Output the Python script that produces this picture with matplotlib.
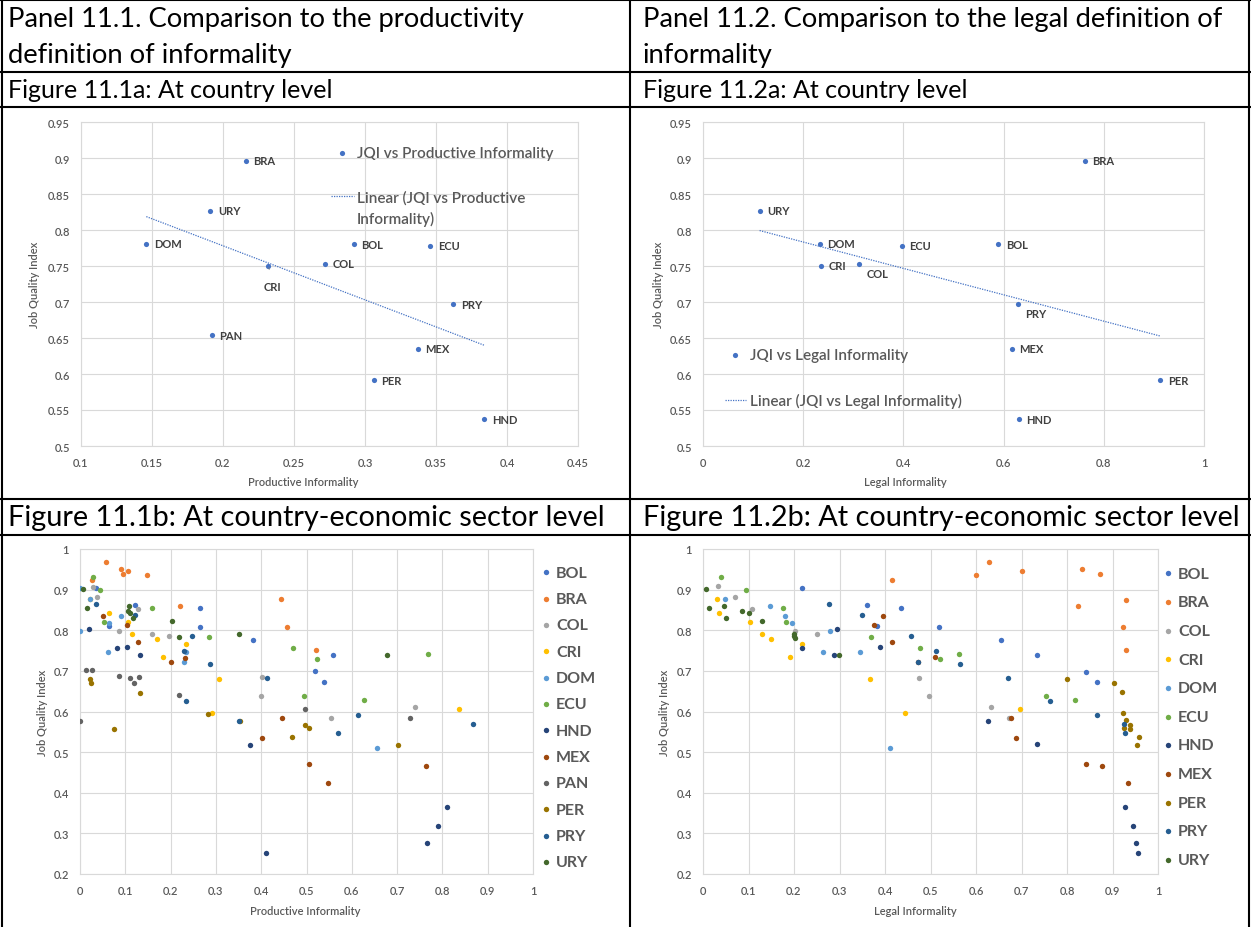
import matplotlib
matplotlib.use('Agg')
import matplotlib.pyplot as plt
from matplotlib.lines import Line2D
import numpy as np

W, H = 1251, 928
plt.rcParams['font.family'] = ['Lato', 'DejaVu Sans']

# ---------------- data ----------------
# country level
countries_prod = ['BRA', 'URY', 'DOM', 'CRI', 'PAN', 'BOL', 'COL', 'ECU', 'PRY', 'MEX', 'PER', 'HND']
prod_inf = [0.216, 0.191, 0.146, 0.232, 0.192, 0.292, 0.272, 0.346, 0.362, 0.337, 0.306, 0.384]
jqi_prod = [0.896, 0.827, 0.781, 0.750, 0.654, 0.780, 0.753, 0.778, 0.697, 0.635, 0.591, 0.537]

countries_legal = ['URY', 'DOM', 'CRI', 'COL', 'ECU', 'BOL', 'BRA', 'PRY', 'MEX', 'PER', 'HND']
legal_inf = [0.113, 0.233, 0.235, 0.312, 0.397, 0.589, 0.762, 0.628, 0.616, 0.913, 0.630]
jqi_legal = [0.827, 0.781, 0.750, 0.753, 0.778, 0.780, 0.896, 0.697, 0.635, 0.591, 0.537]

# country-economic sector level, productive informality (x, JQI)
bol_prod = [(0.036, 0.903), (0.121, 0.861), (0.265, 0.856), (0.264, 0.809), (0.065, 0.811), (0.383, 0.776),
            (0.519, 0.699), (0.538, 0.673), (0.558, 0.738)]
bra_prod = [(0.058, 0.969), (0.091, 0.951), (0.094, 0.939), (0.107, 0.947), (0.147, 0.935), (0.026, 0.924),
            (0.220, 0.859), (0.444, 0.876), (0.457, 0.809), (0.522, 0.751)]
col_prod = [(0.028, 0.907), (0.038, 0.882), (0.129, 0.853), (0.085, 0.797), (0.159, 0.792), (0.196, 0.786),
            (0.401, 0.684), (0.399, 0.637), (0.553, 0.584), (0.739, 0.610)]
cri_prod = [(0.022, 0.876), (0.064, 0.843), (0.107, 0.820), (0.114, 0.790), (0.171, 0.779), (0.183, 0.733),
            (0.233, 0.765), (0.306, 0.681), (0.291, 0.597), (0.837, 0.607)]
dom_prod = [(0.000, 0.903), (0.001, 0.798), (0.021, 0.876), (0.065, 0.819), (0.090, 0.836), (0.062, 0.747),
            (0.235, 0.747), (0.230, 0.721), (0.655, 0.509)]
ecu_prod = [(0.029, 0.931), (0.045, 0.900), (0.054, 0.820), (0.160, 0.856), (0.285, 0.783), (0.471, 0.756),
            (0.524, 0.729), (0.495, 0.637), (0.769, 0.742), (0.628, 0.628)]
hnd_prod = [(0.020, 0.804), (0.082, 0.756), (0.104, 0.760), (0.132, 0.739), (0.376, 0.518), (0.410, 0.252),
            (0.811, 0.366), (0.791, 0.317), (0.765, 0.276)]
mex_prod = [(0.050, 0.834), (0.103, 0.812), (0.127, 0.770), (0.201, 0.722), (0.232, 0.732), (0.401, 0.535),
            (0.447, 0.584), (0.506, 0.471), (0.548, 0.423), (0.764, 0.466)]
pan_prod = [(0.000, 0.576), (0.013, 0.702), (0.027, 0.701), (0.087, 0.687), (0.111, 0.683), (0.120, 0.670),
            (0.130, 0.686), (0.218, 0.641), (0.496, 0.607), (0.729, 0.585)]
per_prod = [(0.022, 0.679), (0.024, 0.669), (0.132, 0.646), (0.074, 0.556), (0.283, 0.594), (0.353, 0.577),
            (0.468, 0.538), (0.496, 0.567), (0.505, 0.560), (0.703, 0.518)]
pry_prod = [(0.035, 0.865), (0.121, 0.838), (0.248, 0.785), (0.230, 0.750), (0.235, 0.625), (0.288, 0.716),
            (0.413, 0.683), (0.350, 0.577), (0.613, 0.591), (0.570, 0.546), (0.867, 0.569)]
ury_prod = [(0.006, 0.902), (0.016, 0.856), (0.109, 0.859), (0.107, 0.848), (0.110, 0.843), (0.118, 0.829),
            (0.204, 0.824), (0.218, 0.783), (0.352, 0.792), (0.677, 0.738)]

# country-economic sector level, legal informality (x, JQI)
bol_legal = [(0.218, 0.903), (0.361, 0.862), (0.436, 0.856), (0.383, 0.811), (0.518, 0.809), (0.655, 0.776),
             (0.733, 0.739), (0.841, 0.698), (0.865, 0.673)]
bra_legal = [(0.415, 0.923), (0.601, 0.935), (0.629, 0.969), (0.701, 0.947), (0.834, 0.951), (0.873, 0.939),
             (0.824, 0.859), (0.929, 0.875), (0.924, 0.809), (0.929, 0.751)]
col_legal = [(0.033, 0.908), (0.071, 0.882), (0.107, 0.853), (0.202, 0.799), (0.250, 0.792), (0.474, 0.683),
             (0.496, 0.637), (0.634, 0.610), (0.673, 0.584)]
cri_legal = [(0.031, 0.876), (0.036, 0.843), (0.104, 0.820), (0.129, 0.790), (0.150, 0.779), (0.191, 0.733),
             (0.217, 0.765), (0.367, 0.681), (0.444, 0.597), (0.697, 0.607)]
dom_legal = [(0.048, 0.876), (0.147, 0.859), (0.180, 0.836), (0.196, 0.818), (0.263, 0.747), (0.279, 0.798),
             (0.344, 0.747), (0.410, 0.509)]
ecu_legal = [(0.039, 0.931), (0.094, 0.900), (0.175, 0.856), (0.182, 0.820), (0.370, 0.783), (0.476, 0.756),
             (0.520, 0.729), (0.562, 0.742), (0.754, 0.637), (0.818, 0.628)]
hnd_legal = [(0.218, 0.756), (0.288, 0.740), (0.295, 0.803), (0.388, 0.760), (0.626, 0.576), (0.735, 0.520),
             (0.927, 0.366), (0.944, 0.317), (0.952, 0.276), (0.956, 0.252)]
mex_legal = [(0.375, 0.812), (0.396, 0.835), (0.416, 0.771), (0.473, 0.723), (0.510, 0.733), (0.676, 0.584),
             (0.688, 0.536), (0.842, 0.471), (0.878, 0.467), (0.933, 0.423)]
per_legal = [(0.800, 0.679), (0.904, 0.669), (0.921, 0.647), (0.922, 0.596), (0.929, 0.578), (0.926, 0.560),
             (0.939, 0.566), (0.939, 0.556), (0.958, 0.538), (0.953, 0.518)]
pry_legal = [(0.277, 0.865), (0.350, 0.838), (0.458, 0.785), (0.512, 0.750), (0.473, 0.721), (0.564, 0.718),
             (0.670, 0.683), (0.762, 0.625), (0.865, 0.591), (0.925, 0.570), (0.927, 0.546)]
ury_legal = [(0.006, 0.902), (0.0125, 0.856), (0.046, 0.859), (0.051, 0.829), (0.086, 0.848), (0.101, 0.843),
             (0.129, 0.824), (0.199, 0.792), (0.201, 0.787), (0.203, 0.782), (0.299, 0.738)]

sector_names = ['BOL', 'BRA', 'COL', 'CRI', 'DOM', 'ECU', 'HND', 'MEX', 'PAN', 'PER', 'PRY', 'URY']
sector_colors = ['#4472C4', '#ED7D31', '#A5A5A5', '#FFC000', '#5B9BD5', '#70AD47',
                 '#264478', '#9E480E', '#636363', '#997300', '#255E91', '#43682B']
sector_prod = [bol_prod, bra_prod, col_prod, cri_prod, dom_prod, ecu_prod,
               hnd_prod, mex_prod, pan_prod, per_prod, pry_prod, ury_prod]
sector_legal = [bol_legal, bra_legal, col_legal, cri_legal, dom_legal, ecu_legal,
                hnd_legal, mex_legal, None, per_legal, pry_legal, ury_legal]

BLUE = '#4472C4'
GRID = '#D9D9D9'
TXT = '#595959'


def fx(x):
    return x / W


def fy(y):
    return 1 - y / H


def px_rect(x0, y0, x1, y1):
    return [x0 / W, 1 - y1 / H, (x1 - x0) / W, (y1 - y0) / H]


def style(ax, xticks, yticks):
    ax.set_xlim(xticks[0], xticks[-1])
    ax.set_ylim(yticks[0], yticks[-1])
    ax.set_xticks(xticks)
    ax.set_yticks(yticks)
    ax.set_xticklabels([f'{t:g}' for t in xticks])
    ax.set_yticklabels([f'{t:g}' for t in yticks])
    ax.grid(True, color=GRID, lw=0.8)
    ax.set_axisbelow(True)
    for s in ax.spines.values():
        s.set_color(GRID)
        s.set_linewidth(0.8)
    ax.tick_params(length=0, pad=8, labelsize=8, labelcolor=TXT)
    for lab in ax.get_xticklabels() + ax.get_yticklabels():
        lab.set_fontweight('semibold')


fig = plt.figure(figsize=(W / 100, H / 100), dpi=100)

# table grid
for y in [1, 73, 108, 500, 536]:
    fig.add_artist(Line2D([0, 1], [fy(y)] * 2, color='black', lw=1.5))
for x in [2, 630, 1249]:
    fig.add_artist(Line2D([fx(x)] * 2, [0, 1], color='black', lw=1.5))

fig.text(fx(8), fy(20), 'Panel 11.1. Comparison to the productivity', fontsize=19.7, va='center')
fig.text(fx(8), fy(55), 'definition of informality', fontsize=19.7, va='center')
fig.text(fx(643), fy(20), 'Panel 11.2. Comparison to the legal definition of', fontsize=19.7, va='center')
fig.text(fx(643), fy(55), 'informality', fontsize=19.7, va='center')
fig.text(fx(8), fy(90), 'Figure 11.1a: At country level', fontsize=18, va='center')
fig.text(fx(643), fy(90), 'Figure 11.2a: At country level', fontsize=18, va='center')
fig.text(fx(8), fy(518), 'Figure 11.1b: At country-economic sector level', fontsize=20.8, va='center')
fig.text(fx(643), fy(518), 'Figure 11.2b: At country-economic sector level', fontsize=20.8, va='center')


def country_chart(rect, xs, ys, names, xticks, special, leg_anchor, leg_labels, leg_pad, leg_hl, leg_sp,
                  xlabel, xlab_pos, ylab_x):
    ax = fig.add_axes(px_rect(*rect))
    style(ax, xticks, np.round(np.arange(0.5, 0.951, 0.05), 2))
    sc = ax.scatter(xs, ys, s=14, color=BLUE, zorder=3, linewidths=0)
    k, b = np.polyfit(xs, ys, 1)
    tx = np.array([min(xs), max(xs)])
    tl, = ax.plot(tx, k * tx + b, ls=(0, (1, 1)), color=BLUE, lw=0.9, zorder=2)
    for x, y, n in zip(xs, ys, names):
        if n in special:
            dx, dy = special[n]
            ax.annotate(n, (x, y), xytext=(dx, dy), textcoords='offset points', ha='center', va='center',
                        fontsize=8, fontweight='bold', color='#404040',
                        arrowprops=dict(arrowstyle='-', color='#7F7F7F', lw=0.5, shrinkA=6, shrinkB=1)
                        if n == 'CRI' and dx < 5 else None)
        else:
            ax.annotate(n, (x, y), xytext=(5.5, 0), textcoords='offset points', ha='left', va='center',
                        fontsize=8, fontweight='bold', color='#404040')
    leg = ax.legend([sc, tl], leg_labels, loc='upper left', bbox_to_anchor=(fx(leg_anchor[0]), fy(leg_anchor[1])),
                    bbox_transform=fig.transFigure, frameon=False, fontsize=11, handlelength=leg_hl,
                    handletextpad=leg_pad, labelspacing=leg_sp, borderpad=0, borderaxespad=0, scatterpoints=1)
    for t in leg.get_texts():
        t.set_color(TXT)
        t.set_fontweight('semibold')
    fig.text(fx(xlab_pos[0]), fy(xlab_pos[1]), xlabel, fontsize=8, color=TXT, ha='center', va='center',
             fontweight='semibold')
    fig.text(fx(ylab_x), fy((rect[1] + rect[3]) / 2), 'Job Quality Index', fontsize=8, color=TXT,
             ha='center', va='center', rotation=90, fontweight='semibold')
    return ax


country_chart((81, 123, 578, 447), prod_inf, jqi_prod, countries_prod,
              np.round(np.arange(0.1, 0.451, 0.05), 2), {'CRI': (3, -14.5)},
              (331, 147.5), ['JQI vs Productive Informality', 'Linear (JQI vs Productive'], 0.22, 1.5, 1.95,
              'Productive Informality', (303, 483), 35)
# wrapped second line of the trendline legend entry
fig.text(fx(357), fy(219), 'Informality)', fontsize=11, color=TXT, va='center', fontweight='semibold')

country_chart((703, 123, 1204, 447), legal_inf, jqi_legal, countries_legal,
              np.round(np.arange(0, 1.01, 0.2), 1), {'COL': (13.5, -6.8), 'PRY': (12.8, -7)},
              (725, 349.5), ['JQI vs Legal Informality', 'Linear (JQI vs Legal Informality)'], 0.3, 1.35, 2.0,
              'Legal Informality', (905, 483), 658)


def sector_chart(rect, series, xlabel, xlab_pos, ylab_x, leg_anchor, spacing):
    ax = fig.add_axes(px_rect(*rect))
    style(ax, np.round(np.arange(0, 1.01, 0.1), 1), np.round(np.arange(0.2, 1.01, 0.1), 1))
    handles, labels = [], []
    for name, col, pts in zip(sector_names, sector_colors, series):
        if pts is None:
            continue
        arr = np.array(pts)
        h = ax.scatter(arr[:, 0], arr[:, 1], s=15, color=col, zorder=3, linewidths=0)
        handles.append(h)
        labels.append(name)
    leg = ax.legend(handles, labels, loc='upper left', bbox_to_anchor=(fx(leg_anchor[0]), fy(leg_anchor[1])),
                    bbox_transform=fig.transFigure, frameon=False, fontsize=11.5, handlelength=0.65,
                    handletextpad=0.3, labelspacing=spacing, borderpad=0, borderaxespad=0, scatterpoints=1)
    for t in leg.get_texts():
        t.set_color(TXT)
        t.set_fontweight('bold')
    fig.text(fx(xlab_pos[0]), fy(xlab_pos[1]), xlabel, fontsize=8, color=TXT, ha='center', va='center',
             fontweight='semibold')
    fig.text(fx(ylab_x), fy((rect[1] + rect[3]) / 2), 'Job Quality Index', fontsize=8, color=TXT,
             ha='center', va='center', rotation=90, fontweight='semibold')
    return ax


sector_chart((80, 550, 533, 875), sector_prod, 'Productive Informality', (305, 912), 43, (541, 566.5), 0.76)
sector_chart((703, 550, 1158, 875), sector_legal, 'Legal Informality', (915, 912), 665, (1163, 567.5), 0.905)

fig.savefig('out.png', dpi=100, facecolor='white')
